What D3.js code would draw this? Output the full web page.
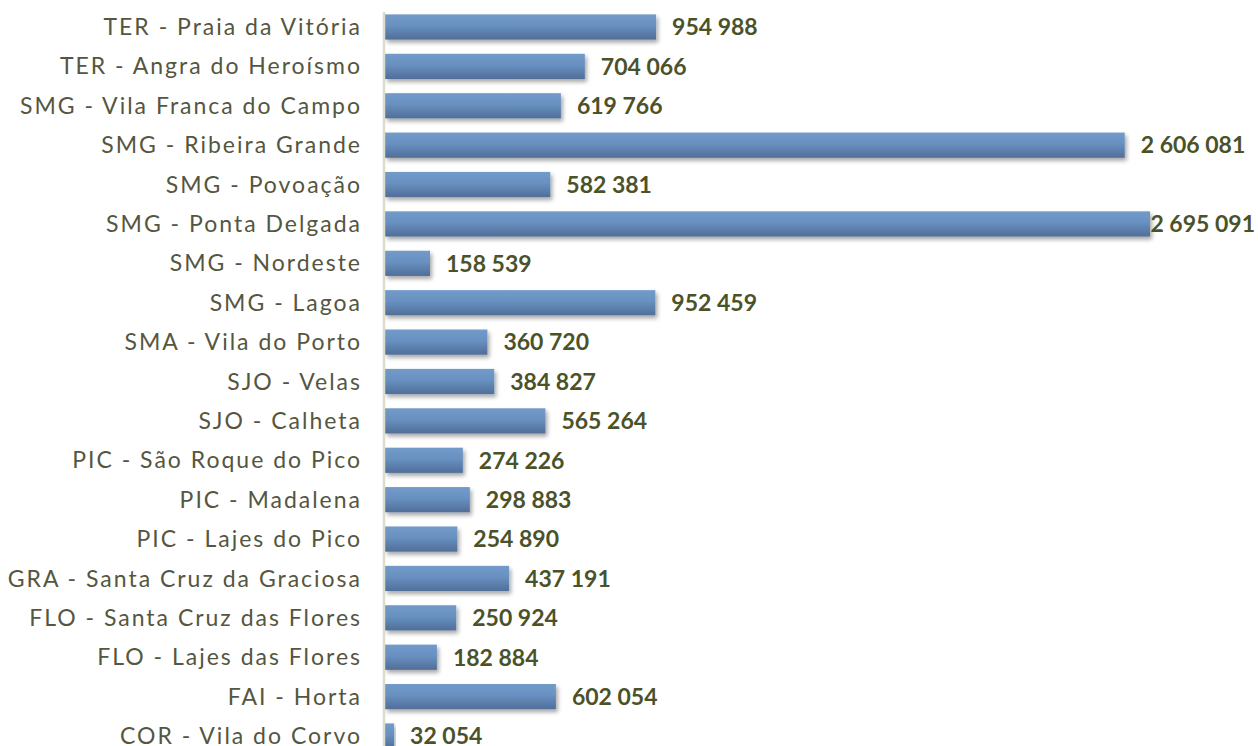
<!DOCTYPE html>
<html>
<head>
<meta charset="utf-8">
<script src="https://cdn.jsdelivr.net/npm/d3@7"></script>
<style>
  html, body { margin: 0; padding: 0; background: #ffffff; overflow: hidden; }
  svg { display: block; }
</style>
</head>
<body>
<svg id="chart" width="1258" height="746"></svg>
<script>
const categories = [
  "TER - Praia da Vitória",
  "TER - Angra do Heroísmo",
  "SMG - Vila Franca do Campo",
  "SMG - Ribeira Grande",
  "SMG - Povoação",
  "SMG - Ponta Delgada",
  "SMG - Nordeste",
  "SMG - Lagoa",
  "SMA - Vila do Porto",
  "SJO - Velas",
  "SJO - Calheta",
  "PIC - São Roque do Pico ",
  "PIC - Madalena",
  "PIC - Lajes do Pico",
  "GRA - Santa Cruz da Graciosa",
  "FLO - Santa Cruz das Flores",
  "FLO - Lajes das Flores",
  "FAI - Horta",
  "COR - Vila do Corvo"
];
const values = [954988, 704066, 619766, 2606081, 582381, 2695091, 158539, 952459, 360720, 384827, 565264, 274226, 298883, 254890, 437191, 250924, 182884, 602054, 32054];
const valueLabels = ["954 988", "704 066", "619 766", "2 606 081", "582 381", "2 695 091", "158 539", "952 459", "360 720", "384 827", "565 264", "274 226", "298 883", "254 890", "437 191", "250 924", "182 884", "602 054", "32 054"];

const W = 1258, H = 746;
const x0 = 385, x1 = 1150;
const svg = d3.select("#chart");

const x = d3.scaleLinear().domain([0, 2695091]).range([x0, x1]);
const y = d3.scaleBand().domain(categories).range([7.3, 755.7]).paddingInner(0.36).paddingOuter(0.18);

const defs = svg.append("defs");
const grad = defs.append("linearGradient").attr("id", "barGrad").attr("x1", 0).attr("y1", 0).attr("x2", 0).attr("y2", 1);
grad.append("stop").attr("offset", "0%").attr("stop-color", "#729bca");
grad.append("stop").attr("offset", "45%").attr("stop-color", "#6890c0");
grad.append("stop").attr("offset", "100%").attr("stop-color", "#506e98");

const f = defs.append("filter").attr("id", "shadow").attr("x", "-5%").attr("y", "-30%").attr("width", "120%").attr("height", "180%");
f.append("feGaussianBlur").attr("in", "SourceAlpha").attr("stdDeviation", 2.2).attr("result", "b");
f.append("feOffset").attr("in", "b").attr("dx", 2).attr("dy", 3).attr("result", "o");
f.append("feComponentTransfer").attr("in", "o").attr("result", "s")
  .append("feFuncA").attr("type", "linear").attr("slope", 0.35);
const m = f.append("feMerge");
m.append("feMergeNode").attr("in", "s");
m.append("feMergeNode").attr("in", "SourceGraphic");

// bars
svg.append("g").selectAll("rect").data(categories).join("rect")
  .attr("x", x(0))
  .attr("y", d => y(d))
  .attr("width", (d, i) => x(values[i]) - x(0))
  .attr("height", y.bandwidth())
  .attr("fill", "url(#barGrad)")
  .attr("filter", "url(#shadow)");

// axis
const axis = d3.axisLeft(y).tickSize(0).tickPadding(24);
const ag = svg.append("g").attr("transform", `translate(${x0 - 1},0)`).call(axis);
ag.select(".domain").attr("stroke", "#dcdccb").attr("stroke-width", 2.5).attr("d", `M0,12V${H}`);
const tl = ag.selectAll("text")
  .attr("fill", "#55563f")
  .style("font-family", "'Lato', 'DejaVu Sans', sans-serif")
  .style("font-size", "23px")
  .attr("dy", "0.35em");
// widen letter spacing to match the wide geometric face of the original
let refNode = null;
tl.each(function(d) { if (d === "SMG - Vila Franca do Campo") refNode = this; });
if (refNode) {
  const w = refNode.getComputedTextLength();
  const n = "SMG - Vila Franca do Campo".length;
  const ls = (342 - w) / n;
  tl.style("letter-spacing", ls + "px").attr("dx", ls);
}

// value labels
const vl = svg.append("g").selectAll("text").data(categories).join("text")
  .attr("y", d => y(d) + y.bandwidth() / 2)
  .attr("dy", "0.36em")
  .attr("fill", "#4b5229")
  .style("font-family", "'Lato', 'DejaVu Sans', sans-serif")
  .style("font-weight", "bold")
  .style("font-size", "23px")
  .text((d, i) => valueLabels[i]);
vl.each(function(d, i) {
  const w = this.getComputedTextLength();
  let px = x(values[i]) + 16;
  if (px + w > W - 3) px = W - 3 - w;
  d3.select(this).attr("x", px);
});
</script>
</body>
</html>
